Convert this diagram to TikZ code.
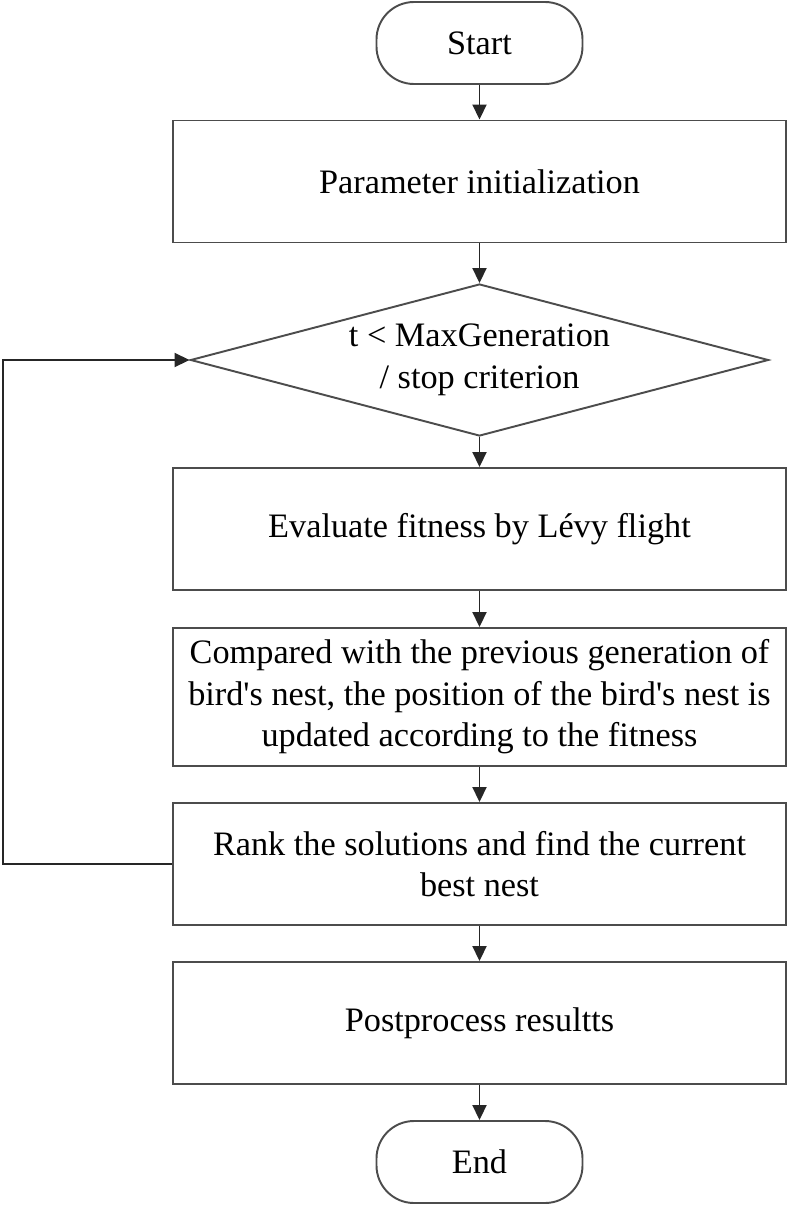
\documentclass[tikz,border=0pt]{standalone}
\usepackage{fontspec}
\setmainfont{Liberation Serif}
\usetikzlibrary{shapes.geometric,arrows.meta}

\begin{document}
\begin{tikzpicture}[font=\fontsize{19.5}{23.6}\selectfont,
    box/.style={draw=black!70, line width=1.1pt, rectangle, minimum width=12.26cm, minimum height=2.44cm, align=center},
    term/.style={draw=black!70, line width=1.1pt, rectangle, rounded corners=0.75cm, minimum width=4.12cm, minimum height=1.64cm},
    decision/.style={draw=black!70, line width=1.1pt, diamond, aspect=3.8, inner sep=0pt, minimum width=11.56cm, minimum height=3.04cm, align=center},
    flow/.style={draw=black!85, line width=1.1pt, -{Triangle[length=3mm,width=2.8mm]}}]
    \useasboundingbox (0,0) rectangle (16,-24.1);
    \node[term] (start) at (9.59,-0.86) {Start};
    \node[box] (init) at (9.59,-3.63) {Parameter initialization};
    \node[decision] (check) at (9.59,-7.2) {t < MaxGeneration\\ / stop criterion};
    \node[box] (levy) at (9.59,-10.58) {Evaluate fitness by Lévy flight};
    \node[box, minimum height=2.76cm] (update) at (9.59,-13.94) {Compared with the previous generation of\\ bird\textquotesingle s nest, the position of the bird\textquotesingle s nest is\\ updated according to the fitness};
    \node[box] (rank) at (9.59,-17.28) {Rank the solutions and find the current\\ best nest};
    \node[box] (post) at (9.59,-20.46) {Postprocess resultts};
    \node[term] (end) at (9.59,-23.24) {End};
    \coordinate (back) at (0.06,-17.28);
    \draw[flow] (start) -- (init);
    \draw[flow] (init) -- (check);
    \draw[flow] (check) -- (levy);
    \draw[flow] (levy) -- (update);
    \draw[flow] (update) -- (rank);
    \draw[flow] (rank) -- (post);
    \draw[flow] (post) -- (end);
    %\draw (rank.west) -- (back);
    \draw[flow] (rank.west) -- (back) |- (check.west);
\end{tikzpicture}
\end{document}
